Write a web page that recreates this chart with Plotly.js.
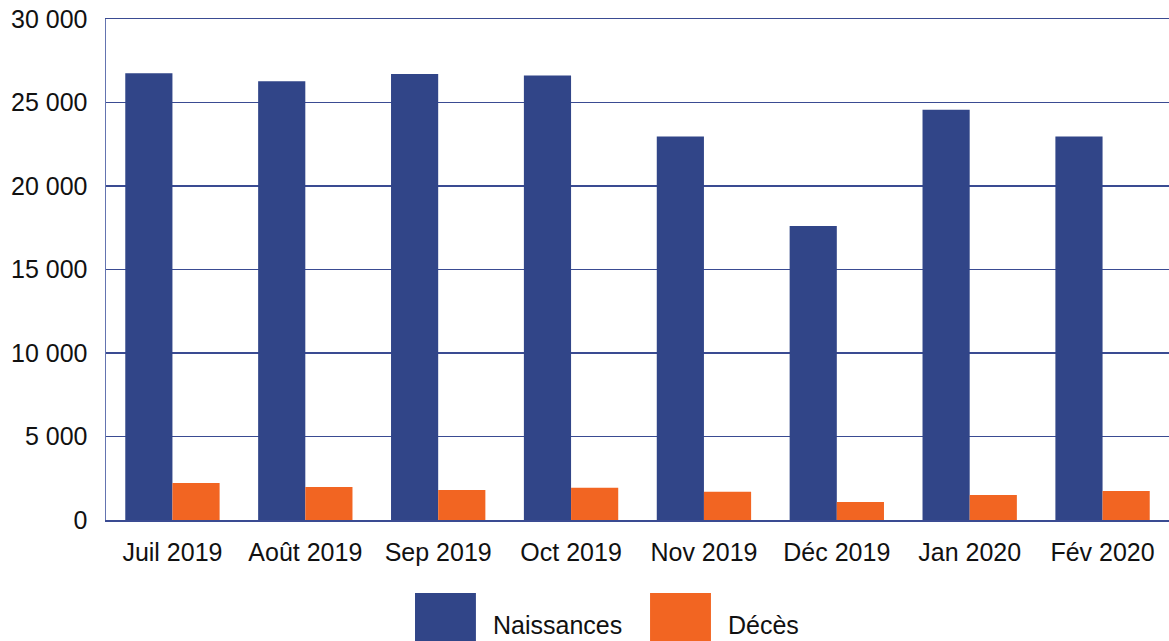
<!DOCTYPE html>
<html>
<head>
<meta charset="utf-8">
<script src="https://cdn.plot.ly/plotly-3.0.1.min.js"></script>
<style>html,body{margin:0;padding:0;background:#fff;}#chart{width:1169px;height:641px;}</style>
</head>
<body>
<div id="chart"></div>
<script>
const months = ["Juil 2019","Août 2019","Sep 2019","Oct 2019","Nov 2019","Déc 2019","Jan 2020","Fév 2020"];
const naissances = [26750, 26270, 26700, 26620, 22960, 17600, 24560, 22960];
const deces = [2210, 1980, 1800, 1930, 1690, 1080, 1500, 1740];
const seriesNames = ["Naissances", "Décès"];
const yTicks = [0, 5000, 10000, 15000, 20000, 25000, 30000];

const blue = "#314588";
const orange = "#f26522";
const font = {family: "Liberation Sans, Arial, sans-serif", size: 25, color: "#111"};

const traces = [
  {type: "bar", x: months, y: naissances, name: seriesNames[0], marker: {color: blue}, showlegend: false, hoverinfo: "skip"},
  {type: "bar", x: months, y: deces, name: seriesNames[1], marker: {color: orange}, showlegend: false, hoverinfo: "skip"}
];

const layout = {
  width: 1169, height: 641,
  margin: {l: 106, r: 0, t: 18.5, b: 121},
  paper_bgcolor: "#fff", plot_bgcolor: "#fff",
  separators: ", ",
  font: font,
  barmode: "group",
  bargap: 0.29,
  bargroupgap: 0,
  xaxis: {
    showline: true, linecolor: "#3a4b92", linewidth: 1.5, mirror: true,
    ticks: "", ticklabelstandoff: 9, tickfont: font, showgrid: false, fixedrange: true
  },
  yaxis: {
    range: [0, 30000], tickvals: yTicks, tickformat: ",d",
    showgrid: true, gridcolor: "#3a4b92", gridwidth: 1.3,
    showline: true, linecolor: "#6474b0", linewidth: 1.5,
    zeroline: false, ticks: "", ticklabelstandoff: 12, tickfont: font, fixedrange: true
  },
  shapes: [
    {type: "rect", xref: "paper", yref: "paper", x0: 0.2907, x1: 0.348, y0: -0.26, y1: -0.1456, fillcolor: blue, line: {width: 0}},
    {type: "rect", xref: "paper", yref: "paper", x0: 0.5118, x1: 0.5691, y0: -0.26, y1: -0.1456, fillcolor: orange, line: {width: 0}}
  ],
  annotations: [
    {xref: "paper", yref: "paper", x: 0.362, y: -0.2094, xanchor: "left", yanchor: "middle", text: seriesNames[0], showarrow: false, font: font},
    {xref: "paper", yref: "paper", x: 0.583, y: -0.2094, xanchor: "left", yanchor: "middle", text: seriesNames[1], showarrow: false, font: font}
  ],
  showlegend: false
};

Plotly.newPlot("chart", traces, layout, {displayModeBar: false, staticPlot: true});
</script>
</body>
</html>
